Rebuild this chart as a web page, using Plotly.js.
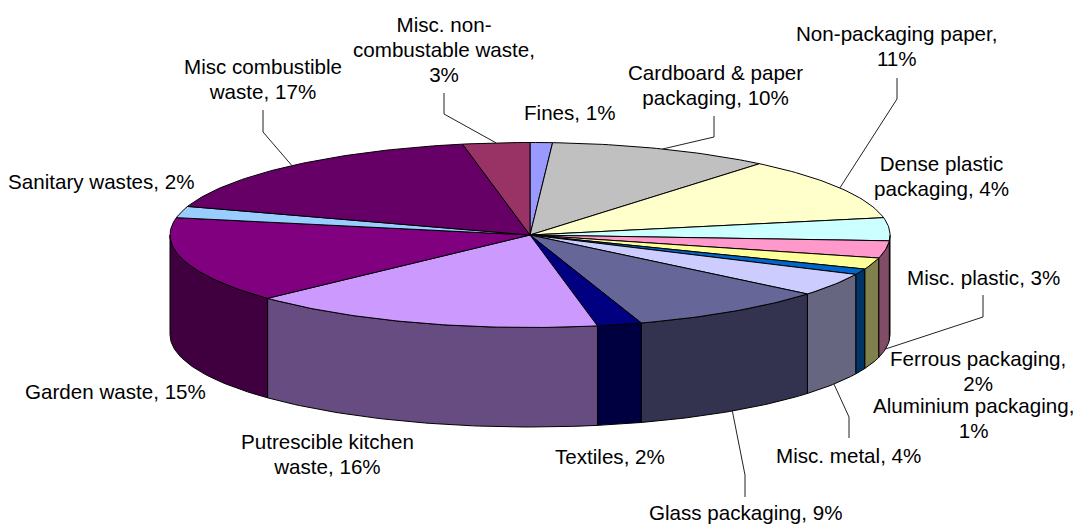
<!DOCTYPE html>
<html>
<head>
<meta charset="utf-8">
<script src="https://cdn.plot.ly/plotly-3.0.1.min.js"></script>
<style>html,body{margin:0;padding:0;background:#fff}</style>
</head>
<body>
<div id="chart" style="width:1075px;height:525px"></div>
<script>
// Household waste composition, percent of total, clockwise from twelve o'clock
const categories = [
  "Fines", "Cardboard & paper<br>packaging", "Non-packaging paper,<br>", "Dense plastic<br>packaging",
  "Misc. plastic", "Ferrous packaging,<br>", "Aluminium packaging,<br>", "Misc. metal",
  "Glass packaging", "Textiles", "Putrescible kitchen<br>waste", "Garden waste",
  "Sanitary wastes", "Misc combustible<br>waste", "Misc. non-<br>combustable waste,<br>"
];
const shares = [1, 10, 11, 4, 3, 2, 1, 4, 9, 2, 16, 15, 2, 17, 3];
const topColors = [
  "#9999FF", "#C0C0C0", "#FFFFCC", "#CCFFFF", "#FF99CC", "#FFFF99", "#0066CC", "#CCCCFF",
  "#666699", "#000080", "#CC99FF", "#800080", "#99CCFF", "#660066", "#993366"
];
const wallColors = [
  "#4C4C80", "#606060", "#808066", "#668080", "#804C66", "#80804C", "#003366", "#666680",
  "#333350", "#000040", "#664C80", "#400040", "#4C6680", "#330033", "#4C1A33"
];
// Label centres in page pixels
const labelX = [570, 715, 897, 941, 983, 978, 973, 848, 745, 610, 327, 115, 101, 263, 444];
const labelY = [112, 85, 46, 176, 277, 371, 418, 455, 512, 456, 454, 391, 181, 79, 49];
// Leader lines: index of the slice, then label end and elbow in page pixels
const leaderSlice = [1, 2, 4, 7, 8, 13, 14];
const leaderEndX = [714, 897, 983, 849, 745, 263, 444];
const leaderEndY = [116, 78, 295, 438, 497, 110, 93];
const leaderElbowX = [714, 897, 983, 849, 745, 263, 444];
const leaderElbowY = [137, 99, 317, 417, 475, 132, 114];

// Projected disc geometry
const cx = 530, cy = 235, rx = 360, ry = 92.5, depth = 99.5;
const fontSize = 20.6, linePitch = 25;

const total = shares.reduce((a, b) => a + b, 0);
const rad = pct => pct / total * 2 * Math.PI;
const px = a => cx + rx * Math.sin(a);
const py = (a, drop) => cy - ry * Math.cos(a) + drop;

function arc(a0, a1, drop) {
  const n = Math.max(2, Math.ceil((a1 - a0) / (Math.PI / 180)));
  const pts = [];
  for (let i = 0; i <= n; i++) {
    const a = a0 + (a1 - a0) * i / n;
    pts.push([px(a), py(a, drop)]);
  }
  return pts;
}

const base = { type: "scatter", mode: "lines", hoverinfo: "skip", showlegend: false };
const outline = { color: "#000", width: 1 };
const walls = [], tops = [], leaders = [];
const starts = [];
let running = 0;
shares.forEach((v, i) => {
  starts.push(running);
  const a0 = rad(running), a1 = rad(running + v);
  running += v;

  // Only the front half of the rim faces the viewer
  const w0 = Math.max(a0, Math.PI / 2), w1 = Math.min(a1, 3 * Math.PI / 2);
  if (w1 > w0) {
    const poly = arc(w0, w1, 0).concat(arc(w0, w1, depth).reverse());
    poly.push(poly[0]);
    walls.push({ ...base, x: poly.map(p => p[0]), y: poly.map(p => p[1]),
      fill: "toself", fillcolor: wallColors[i], line: outline });
  }
  const poly = [[cx, cy]].concat(arc(a0, a1, 0), [[cx, cy]]);
  tops.push({ ...base, x: poly.map(p => p[0]), y: poly.map(p => p[1]),
    fill: "toself", fillcolor: topColors[i], line: outline });
});

leaderSlice.forEach((s, k) => {
  const mid = rad(starts[s] + shares[s] / 2);
  const front = mid > Math.PI / 2 && mid < 3 * Math.PI / 2;
  leaders.push({ ...base,
    x: [leaderEndX[k], leaderElbowX[k], px(mid)],
    y: [leaderEndY[k], leaderElbowY[k], py(mid, front ? depth : 0)],
    line: { color: "#222", width: 1 } });
});

const annotations = categories.map((name, i) => ({
  x: labelX[i], y: labelY[i], xref: "x", yref: "y",
  xanchor: "center", yanchor: "middle", align: "center", showarrow: false,
  text: name.endsWith("<br>") ? name + shares[i] + "%" : name + ", " + shares[i] + "%"
}));

const hidden = { visible: false, fixedrange: true };
Plotly.newPlot("chart", walls.concat(tops, leaders), {
  width: 1075, height: 525,
  margin: { l: 0, r: 0, t: 0, b: 0 },
  paper_bgcolor: "#fff", plot_bgcolor: "#fff",
  font: { family: '"Liberation Sans", Arial, sans-serif', size: fontSize, color: "#000" },
  xaxis: { ...hidden, range: [0, 1075] },
  yaxis: { ...hidden, range: [525, 0] },
  annotations: annotations
}, { displayModeBar: false, staticPlot: true }).then(() => {
  // Tighten multi-line labels to the chart's line pitch, keeping each block centred
  const defaultPitch = 1.3 * fontSize;
  document.querySelectorAll("#chart .annotation-text").forEach(label => {
    const lines = label.querySelectorAll("tspan.line");
    const inset = (lines.length - 1) * (defaultPitch - linePitch) / 2;
    lines.forEach((line, i) => line.setAttribute("dy", (inset + i * linePitch) + "px"));
  });
});
</script>
</body>
</html>
